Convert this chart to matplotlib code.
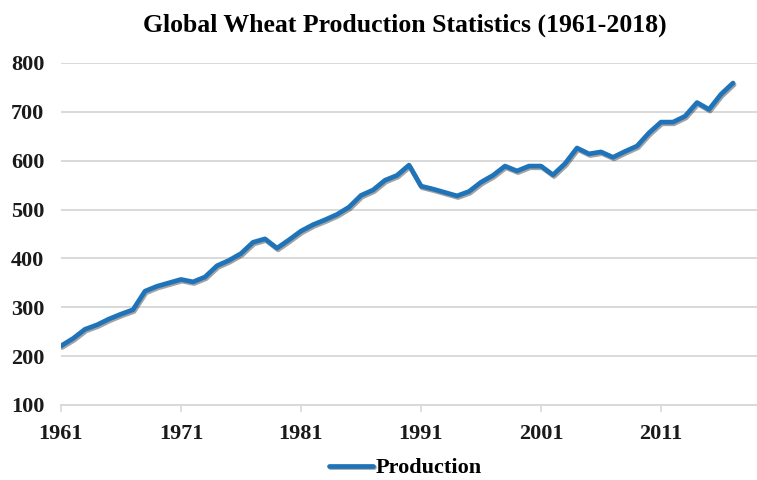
import matplotlib.pyplot as plt
import matplotlib.patheffects as pe

# 数据（百万吨）
years = list(range(1961, 2018))
production = [
    221, 236, 255, 264, 276, 286, 295, 333, 343, 350,
    357, 352, 362, 385, 396, 410, 433, 440, 421, 438,
    456, 469, 479, 490, 505, 529, 540, 560, 570, 591,
    548, 542, 535, 528, 537, 556, 570, 589, 579, 589,
    589, 571, 594, 626, 614, 618, 607, 619, 630, 657,
    679, 679, 691, 719, 705, 736, 759,
]
x_ticks = [1961, 1971, 1981, 1991, 2001, 2011]
y_ticks = [100, 200, 300, 400, 500, 600, 700, 800]

serif = ['Liberation Serif', 'DejaVu Serif']
grid_color = '#d9d9d9'
line_color = '#1f74b9'

fig = plt.figure(figsize=(7.57, 4.8), dpi=100)
ax = fig.add_axes([61 / 757, 1 - 405 / 480, 1 - 61 / 757, (405 - 63) / 480])

ax.plot(years, production, color=line_color, linewidth=3.4, label='Production',
        solid_joinstyle='round', solid_capstyle='round',
        path_effects=[pe.SimpleLineShadow(offset=(0.8, -1.2), shadow_color='#333333', alpha=0.45),
                      pe.Normal()])

ax.set_xlim(1961, 2019)
ax.set_ylim(100, 800)
ax.set_xticks(x_ticks)
ax.set_yticks(y_ticks)
ax.set_xticklabels([str(v) for v in x_ticks], family=serif, fontweight='bold', fontsize=16)
ax.set_yticklabels([str(v) for v in y_ticks], family=serif, fontweight='bold', fontsize=16)

ax.grid(axis='y', color=grid_color, linewidth=1.4)
ax.set_axisbelow(True)
for s in ['top', 'right', 'left']:
    ax.spines[s].set_visible(False)
ax.spines['bottom'].set_color(grid_color)
ax.spines['bottom'].set_linewidth(1.4)
ax.tick_params(axis='y', length=0, pad=12, colors='#1a1a1a')
ax.tick_params(axis='x', length=5, width=1.2, color=grid_color, pad=9, labelcolor='#1a1a1a')

fig.text(405 / 757, 1 - 25 / 480, 'Global Wheat Production Statistics (1961-2018)',
         ha='center', va='center', family=serif, fontweight='bold', fontsize=18.5)

fig.legend(loc='center', bbox_to_anchor=(405 / 757, 1 - 468 / 480), frameon=False,
           prop={'family': serif, 'weight': 'bold', 'size': 16},
           handlelength=2.0, handletextpad=0.1)

fig.savefig('out.png', dpi=100)
